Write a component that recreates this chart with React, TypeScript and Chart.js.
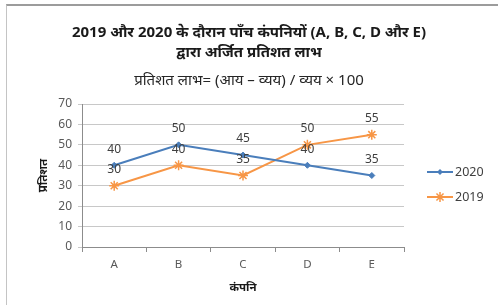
import React, { useEffect, useRef } from "react";
import { Chart, registerables } from "chart.js";

Chart.register(...registerables);

const categories = ["A", "B", "C", "D", "E"];
const series2020 = [40, 50, 45, 40, 35];
const series2019 = [30, 40, 35, 50, 55];
const seriesNames = ["2020", "2019"];
const titleLines = [
  "2019 और 2020 के दौरान पाँच कंपनियों (A, B, C, D और E)",
  "द्वारा अर्जित प्रतिशत लाभ",
];
const subtitleText = "प्रतिशत लाभ= (आय – व्यय) / व्यय × 100";
const xTitle = "कंपनि";
const yTitle = "प्रतिशत";

const BLUE = "#4A7EBB";
const ORANGE = "#F79646";
const FONT = "'Noto Sans', 'Liberation Sans', sans-serif";

const dataLabelPlugin = {
  id: "dataLabels",
  afterDatasetsDraw(chart: any) {
    const ctx = chart.ctx;
    ctx.save();
    ctx.font = `12px ${FONT}`;
    ctx.fillStyle = "#404040";
    ctx.textAlign = "center";
    ctx.textBaseline = "middle";
    chart.data.datasets.forEach((ds: any, i: number) => {
      const meta = chart.getDatasetMeta(i);
      meta.data.forEach((pt: any, j: number) => {
        ctx.fillText(String(ds.data[j]), pt.x, pt.y - 16);
      });
    });
    ctx.restore();
  },
};

const legendPlugin = {
  id: "customLegend",
  afterDraw(chart: any) {
    const ctx = chart.ctx;
    ctx.save();
    chart.data.datasets.forEach((ds: any, i: number) => {
      const y = 172 + i * 25;
      const x0 = 427;
      const x1 = 453;
      ctx.strokeStyle = ds.borderColor;
      ctx.lineWidth = 2;
      ctx.beginPath();
      ctx.moveTo(x0, y);
      ctx.lineTo(x1, y);
      ctx.stroke();
      const cx = (x0 + x1) / 2;
      if (ds.pointStyle === "star") {
        ctx.lineWidth = 1.5;
        const r = 5;
        ctx.beginPath();
        for (let k = 0; k < 4; k++) {
          const a = (k * Math.PI) / 4;
          ctx.moveTo(cx - r * Math.cos(a), y - r * Math.sin(a));
          ctx.lineTo(cx + r * Math.cos(a), y + r * Math.sin(a));
        }
        ctx.stroke();
      } else {
        ctx.fillStyle = ds.borderColor;
        const r = 3;
        ctx.beginPath();
        ctx.moveTo(cx, y - r);
        ctx.lineTo(cx + r, y);
        ctx.lineTo(cx, y + r);
        ctx.lineTo(cx - r, y);
        ctx.closePath();
        ctx.fill();
      }
      ctx.font = `12.5px ${FONT}`;
      ctx.fillStyle = "#404040";
      ctx.textAlign = "left";
      ctx.textBaseline = "middle";
      ctx.fillText(ds.label, x1 + 2, y);
    });
    ctx.restore();
  },
};

export default function App() {
  const ref = useRef<HTMLCanvasElement | null>(null);

  useEffect(() => {
    if (!ref.current) return;
    const chart = new Chart(ref.current, {
      type: "line",
      data: {
        labels: categories,
        datasets: [
          {
            label: seriesNames[0],
            data: series2020,
            yAxisID: "y",
            borderColor: BLUE,
            backgroundColor: BLUE,
            borderWidth: 2,
            pointStyle: "rectRot",
            pointRadius: 3,
            pointBorderWidth: 1,
            tension: 0,
          },
          {
            label: seriesNames[1],
            data: series2019,
            yAxisID: "y",
            borderColor: ORANGE,
            backgroundColor: ORANGE,
            borderWidth: 2,
            pointStyle: "star",
            pointRadius: 5,
            pointBorderWidth: 1.5,
            tension: 0,
          },
        ],
      },
      options: {
        animation: false,
        responsive: false,
        devicePixelRatio: 1,
        layout: { padding: 0 },
        plugins: {
          legend: { display: false },
          tooltip: { enabled: false },
          title: {
            display: true,
            text: titleLines,
            color: "#1a1a1a",
            font: { family: FONT, size: 15, weight: "bold", lineHeight: "20px" },
            padding: { top: 23, bottom: 9 },
          },
          subtitle: {
            display: true,
            text: subtitleText,
            color: "#262626",
            font: { family: FONT, size: 15, weight: "normal", lineHeight: "18px" },
            padding: { top: 0, bottom: 14 },
          },
        },
        scales: {
          x: {
            type: "category",
            offset: true,
            afterFit: (scale: any) => {
              scale.height = 58;
            },
            grid: {
              display: true,
              offset: true,
              drawOnChartArea: false,
              drawTicks: true,
              tickLength: 5,
              color: "#8c8c8c",
            },
            border: { display: true, color: "#8c8c8c", width: 1 },
            ticks: {
              color: "#595959",
              font: { family: FONT, size: 11.5 },
              padding: 6,
            },
            title: {
              display: true,
              text: xTitle,
              color: "#1a1a1a",
              font: { family: FONT, size: 11.5, weight: "bold", lineHeight: "16px" },
              padding: { top: 0, bottom: 9 },
            },
          },
          y: {
            min: 0,
            max: 70,
            afterFit: (scale: any) => {
              scale.width = 82;
            },
            ticks: {
              stepSize: 10,
              color: "#595959",
              font: { family: FONT, size: 12 },
              padding: 6,
            },
            grid: {
              color: "#c8c8c8",
              drawTicks: true,
              tickLength: 4,
            },
            border: { display: true, color: "#8c8c8c", width: 1 },
            title: {
              display: true,
              text: yTitle,
              color: "#1a1a1a",
              font: { family: FONT, size: 11.5, weight: "bold", lineHeight: "16px" },
              padding: { top: 36, bottom: 0 },
            },
          },
          spacer: {
            type: "linear",
            position: "right",
            display: true,
            afterFit: (scale: any) => {
              scale.width = 94;
            },
            ticks: { display: false },
            grid: { display: false },
            border: { display: false },
          },
        },
      },
      plugins: [dataLabelPlugin, legendPlugin],
    } as any);
    return () => chart.destroy();
  }, []);

  return (
    <div
      style={{
        position: "fixed",
        left: 0,
        top: 0,
        width: 498,
        height: 305,
        background: "#ffffff",
        overflow: "hidden",
      }}
    >
      <div
        style={{
          position: "absolute",
          left: 6,
          top: 4,
          right: -4,
          bottom: -4,
          borderTop: "2px solid #9c9c9c",
          borderLeft: "1px solid #c4c4c4",
        }}
      />
      <canvas
        ref={ref}
        width={498}
        height={305}
        style={{ position: "absolute", left: 0, top: 0, width: 498, height: 305 }}
      />
    </div>
  );
}
